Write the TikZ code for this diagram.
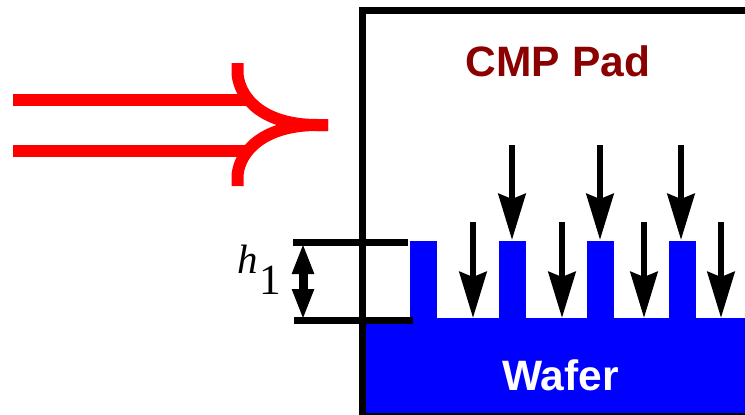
\documentclass[tikz,border=0pt]{standalone}
\usepackage{fontspec}
\setmainfont{Liberation Serif}
\setsansfont{Liberation Sans}
\usetikzlibrary{arrows.meta}
\definecolor{padred}{RGB}{139,0,0}
\begin{document}
\begin{tikzpicture}[x=1pt,y=-1pt,
  flow/.style={draw=red,line width=12pt},
  frame/.style={draw=black,line width=7pt},
  wafer/.style={fill=blue},
  press/.style={line width=6.5pt,-{Stealth[length=46pt,width=27pt,inset=5pt]}},
  gap/.style={line width=9pt,{Stealth[length=31pt,width=20pt,inset=0pt]}-{Stealth[length=31pt,width=20pt,inset=0pt]}},
  title/.style={font=\sffamily\bfseries\fontsize{42.5}{42.5}\selectfont}]
  \useasboundingbox (0,0) rectangle (745,415);
  % wafer
  \fill[wafer] (365,318) rectangle (745,413);
  \foreach \x in {410,499,587,669}
    \fill[wafer] (\x,241) rectangle (\x+27,319);
  % frame
  \coordinate (framea) at (745,10);
  \coordinate (frameb) at (362,10);
  \coordinate (framec) at (362,415);
  \draw[frame,miter limit=10] (framea) -- (frameb) -- (framec);
  \coordinate (basea) at (362,414);
  \coordinate (baseb) at (745,414);
  \draw[line width=2pt] (basea) -- (baseb);
  % labels
  \node[title,text=padred] (pad) at (558,61) {CMP Pad};
  \node[title,text=white] (waf) at (560.5,375) {Wafer};
  % red arrow
  \coordinate (topin) at (13,99.5);
  \coordinate (topend) at (250,99.5);
  \coordinate (botin) at (13,150.5);
  \coordinate (botend) at (250,150.5);
  \coordinate (tip) at (328,125);
  \draw[flow] (topin) -- (topend);
  \draw[flow] (botin) -- (botend);
  \draw[flow] (237.5,63) -- (237.5,74) .. controls (240,100) and (265,125) .. (317,125) -- (tip);
  \draw[flow] (237.5,186) -- (237.5,175) .. controls (240,150) and (265,125) .. (317,125) -- (tip);
  % pressure
  \foreach \x in {512,600,681} {
    \coordinate (a\x) at (\x,145);
    \coordinate (b\x) at (\x,240);
    \draw[press] (a\x) -- (b\x);
  }
  \foreach \x in {473,562,644,721} {
    \coordinate (c\x) at (\x,222);
    \coordinate (d\x) at (\x,318);
    \draw[press] (c\x) -- (d\x);
  }
  % step height
  \coordinate (hta) at (293,242);
  \coordinate (htb) at (408,242);
  \coordinate (hba) at (294,320);
  \coordinate (hbb) at (413,320);
  \draw[line width=7pt] (hta) -- (htb);
  \draw[line width=7pt] (hba) -- (hbb);
  \coordinate (ga) at (303,243);
  \coordinate (gb) at (303,320);
  \draw[gap] (ga) -- (gb);
  \node[font=\itshape\fontsize{41}{41}\selectfont,inner sep=0pt,anchor=base] (hlab) at (248,273) {h};
  \node[font=\fontsize{43}{43}\selectfont,inner sep=0pt,anchor=base] (hsub) at (270,294) {1};
\end{tikzpicture}
\end{document}
